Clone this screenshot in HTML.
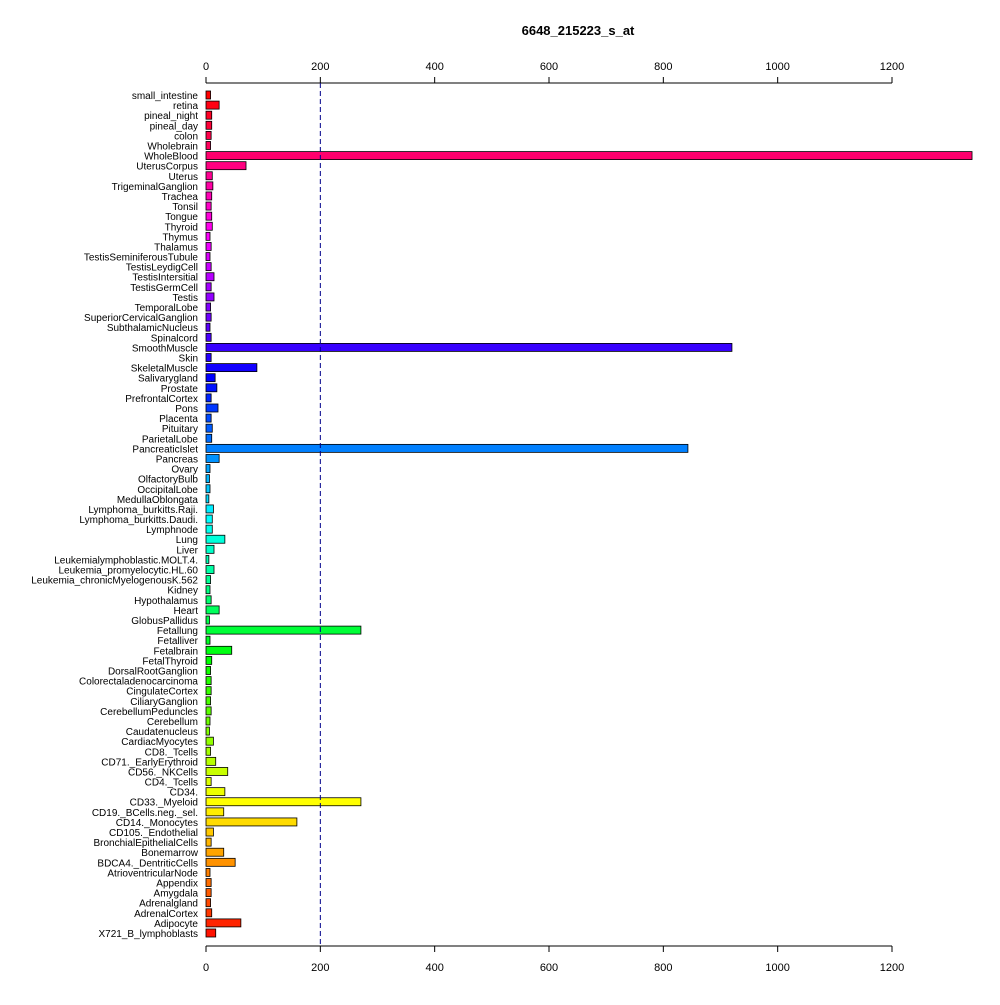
<!DOCTYPE html>
<html><head><meta charset="utf-8"><style>
body{margin:0;background:#fff}
svg text{font-family:"Liberation Sans",sans-serif}
</style></head><body>
<svg id="chart" width="1000" height="1000" xmlns="http://www.w3.org/2000/svg">
<rect width="1000" height="1000" fill="#fff"/>
<text x="578" y="35" font-size="13" font-weight="bold" text-anchor="middle">6648_215223_s_at</text>
<g id="axes"></g><g id="bars"></g>
</svg>
<script>
const categories=["small_intestine","retina","pineal_night","pineal_day","colon","Wholebrain","WholeBlood","UterusCorpus","Uterus","TrigeminalGanglion","Trachea","Tonsil","Tongue","Thyroid","Thymus","Thalamus","TestisSeminiferousTubule","TestisLeydigCell","TestisIntersitial","TestisGermCell","Testis","TemporalLobe","SuperiorCervicalGanglion","SubthalamicNucleus","Spinalcord","SmoothMuscle","Skin","SkeletalMuscle","Salivarygland","Prostate","PrefrontalCortex","Pons","Placenta","Pituitary","ParietalLobe","PancreaticIslet","Pancreas","Ovary","OlfactoryBulb","OccipitalLobe","MedullaOblongata","Lymphoma_burkitts.Raji.","Lymphoma_burkitts.Daudi.","Lymphnode","Lung","Liver","Leukemialymphoblastic.MOLT.4.","Leukemia_promyelocytic.HL.60","Leukemia_chronicMyelogenousK.562","Kidney","Hypothalamus","Heart","GlobusPallidus","Fetallung","Fetalliver","Fetalbrain","FetalThyroid","DorsalRootGanglion","Colorectaladenocarcinoma","CingulateCortex","CiliaryGanglion","CerebellumPeduncles","Cerebellum","Caudatenucleus","CardiacMyocytes","CD8._Tcells","CD71._EarlyErythroid","CD56._NKCells","CD4._Tcells","CD34.","CD33._Myeloid","CD19._BCells.neg._sel.","CD14._Monocytes","CD105._Endothelial","BronchialEpithelialCells","Bonemarrow","BDCA4._DentriticCells","AtrioventricularNode","Appendix","Amygdala","Adrenalgland","AdrenalCortex","Adipocyte","X721_B_lymphoblasts"];
const values=[8,23,10,10,9,8,1340,70,11,12,10,9,10,11,7,9,7,9,14,9,14,8,9,7,9,920,9,89,16,19,9,21,9,11,10,843,23,7,6,7,5,13,11,11,33,14,5,14,8,7,9,23,6,271,7,45,10,8,9,9,8,9,7,6,13,8,17,38,9,33,271,31,159,13,9,31,51,7,9,9,8,10,61,17];
const ticks=[0,200,400,600,800,1000,1200];
const refLine=200;
const NS="http://www.w3.org/2000/svg";
const x0=206,x1=892,vmax=1200,yTop=95,yBot=933,axTop=83,axBot=946;
const xs=v=>x0+(x1-x0)*v/vmax;
const ys=i=>yTop+(yBot-yTop)*i/(categories.length-1);
function mk(t,a,p){const e=document.createElementNS(NS,t);for(const k in a)e.setAttribute(k,a[k]);p.appendChild(e);return e;}
const axes=document.getElementById('axes'),bars=document.getElementById('bars');
[[axTop,-1,'top'],[axBot,1,'bottom']].forEach(([y,d,n])=>{
 const l=mk('line',{x1:xs(0),x2:xs(vmax),y1:y,y2:y,stroke:'#000'},axes);
 
 
 ticks.forEach(t=>{
  mk('line',{x1:xs(t),x2:xs(t),y1:y,y2:y+d*6,stroke:'#000'},axes);
  const tx=mk('text',{x:xs(t),y:d<0?y-13:y+25,'font-size':11,'text-anchor':'middle'},axes);
  tx.textContent=t;
  
  
 });
});
categories.forEach((c,i)=>{
 const y=ys(i),h=360*(categories.length-i)/categories.length%360;
 const r=mk('rect',{x:xs(0),y:y-4,width:Math.max(0,xs(values[i])-xs(0)),height:8,fill:`hsl(${h},100%,50%)`,stroke:'#000','stroke-width':0.8},bars);
 
 
 const t=mk('text',{x:198,y:y+4,'font-size':10,'text-anchor':'end'},bars);
 t.textContent=c;
 
 
});
const rl=mk('line',{x1:xs(refLine),x2:xs(refLine),y1:axTop,y2:axBot,stroke:'#00008b','stroke-dasharray':'5,3'},bars);


</script>
</body></html>
